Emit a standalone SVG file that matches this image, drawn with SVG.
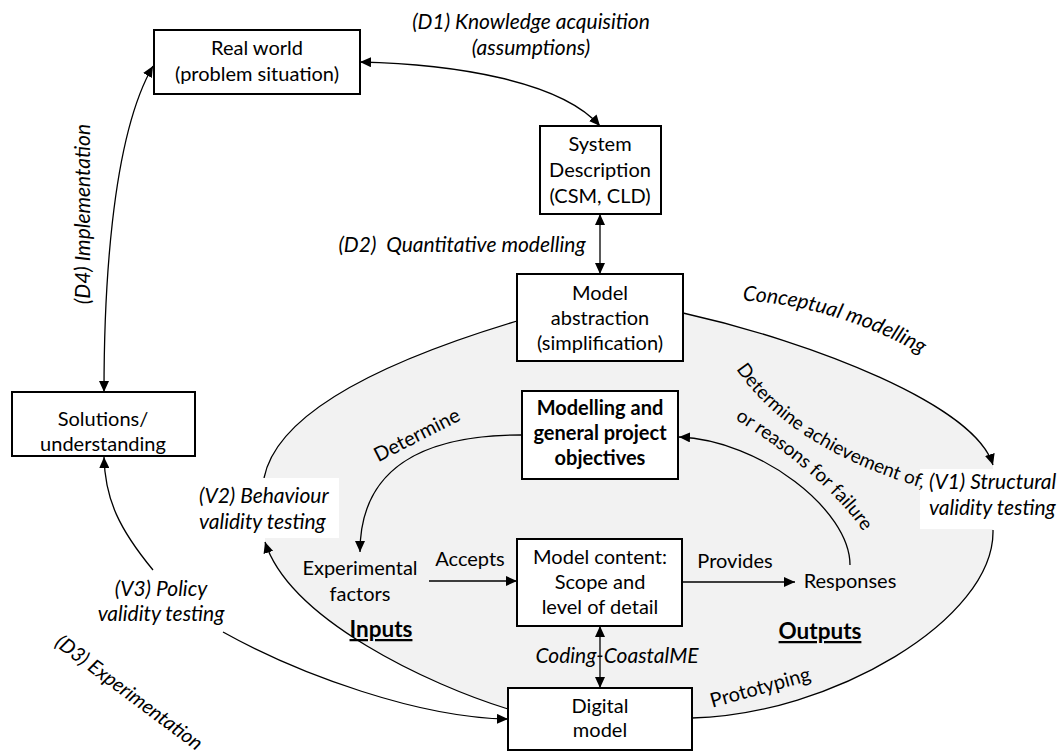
<svg xmlns="http://www.w3.org/2000/svg" width="1061" height="755" viewBox="0 0 1061 755">
<style>
.t{font-family:Lato,"Liberation Sans",sans-serif;font-size:20px;fill:#000}
.i{font-style:italic;font-size:21px}
.b{font-weight:bold}
.c{text-anchor:middle}
.s19{font-size:19px}
.s20{font-size:20px}
.big{font-size:22.5px}
.box{fill:#fff;stroke:#000;stroke-width:2}
.ln{fill:none;stroke:#000;stroke-width:1.3}
.bg{fill:#fff}
</style>
<defs>
<marker id="ah" viewBox="0 0 11 10" refX="11" refY="5" markerWidth="11" markerHeight="10" markerUnits="userSpaceOnUse" orient="auto-start-reverse">
<path d="M0,0 L11,5 L0,10 z" fill="#000"/>
</marker>
<path id="pConc" d="M727,300 Q835,302 935,362"/>
<path id="pDet2" d="M736,369 Q786,443 907,483 L937,493"/>
<path id="pReas" d="M735,419 Q823,474 863,531 L875,549"/>
</defs>

<g id="region">
<path d="M517,321 C397,357 278,408 264,478 L265,542 C290,620 430,685 508,709 L508,720 L692,718 C830,715 995,620 993,530 L993,465 C975,405 813,342 683,313 L683,321 Z" fill="#f2f2f2"/>
</g>

<g id="connectors">
<path class="ln" d="M517,321 C397,357 278,408 264,478"/>
<path class="ln" d="M683,313 C813,342 975,405 993,465" marker-end="url(#ah)"/>
<path class="ln" d="M993,530 C995,620 830,715 692,718"/>
<path class="ln" d="M508,709 C430,685 290,620 265,542" marker-end="url(#ah)"/>
<path class="ln" d="M521,435 C420,435 360,470 360,552" marker-end="url(#ah)"/>
<path class="ln" d="M850,565 C850,510 760,440 679,437" marker-end="url(#ah)"/>
<path class="ln" d="M223,632 C300,675 420,718 508,719" marker-end="url(#ah)"/>
<path class="ln" d="M153,570 C120,530 105,500 104,457" marker-end="url(#ah)"/>
<path class="ln" d="M104,392 C104,300 110,140 153,66" marker-start="url(#ah)" marker-end="url(#ah)"/>
<path class="ln" d="M360,62 C450,64 560,80 600,126" marker-start="url(#ah)" marker-end="url(#ah)"/>
<path class="ln" d="M600,214 L600,274" marker-start="url(#ah)" marker-end="url(#ah)"/>
<path class="ln" d="M600,626 L600,688" marker-start="url(#ah)" marker-end="url(#ah)"/>
<path class="ln" d="M429,581 L517,581" marker-end="url(#ah)"/>
<path class="ln" d="M682,582 L795,582" marker-end="url(#ah)"/>
</g>

<g id="real-world">
<rect class="box" x="154" y="30" width="206" height="64"/>
<text class="t c" x="257" y="55">Real world</text>
<text class="t c" x="257" y="81">(problem situation)</text>
</g>

<g id="system-description">
<rect class="box" x="540" y="126" width="121" height="88"/>
<text class="t c" x="600" y="151">System</text>
<text class="t c" x="600" y="177">Description</text>
<text class="t c" x="600" y="203">(CSM, CLD)</text>
</g>

<g id="model-abstraction">
<rect class="box" x="517" y="274" width="166" height="87"/>
<text class="t c" x="600" y="300">Model</text>
<text class="t c" x="600" y="325">abstraction</text>
<text class="t c" x="600" y="350">(simplification)</text>
</g>

<g id="objectives">
<rect class="box" x="522" y="391" width="156" height="88"/>
<text class="t c b" x="600" y="415">Modelling and</text>
<text class="t c b" x="600" y="440">general project</text>
<text class="t c b" x="600" y="465">objectives</text>
</g>

<g id="model-content">
<rect class="box" x="517" y="539" width="165" height="87"/>
<text class="t c" x="600" y="564">Model content:</text>
<text class="t c" x="600" y="589">Scope and</text>
<text class="t c" x="600" y="614">level of detail</text>
</g>

<g id="digital-model">
<rect class="box" x="508" y="688" width="184" height="62"/>
<text class="t c" x="600" y="713">Digital</text>
<text class="t c" x="600" y="737">model</text>
</g>

<g id="solutions">
<rect class="box" x="12" y="392" width="183" height="64"/>
<text class="t c" x="103" y="426">Solutions/</text>
<text class="t c" x="103" y="451">understanding</text>
</g>

<g id="experimental-factors">
<text class="t c" x="360" y="575">Experimental</text>
<text class="t c" x="360" y="601">factors</text>
</g>

<g id="responses">
<text class="t c" x="850" y="588">Responses</text>
</g>

<g id="v1-label">
<rect class="bg" x="920" y="469" width="141" height="60"/>
<text class="t i" x="929" y="489">(V1) Structural</text>
<text class="t i" x="929" y="515">validity testing</text>
</g>

<g id="v2-label">
<rect class="bg" x="196" y="478" width="143" height="60"/>
<text class="t i" x="199" y="503">(V2) Behaviour</text>
<text class="t i" x="199" y="529">validity testing</text>
</g>

<g id="v3-label">
<text class="t i c" x="161" y="596">(V3) Policy</text>
<text class="t i c" x="161" y="621">validity testing</text>
</g>

<g id="labels">
<text class="t i c" x="531" y="29">(D1) Knowledge acquisition</text>
<text class="t i c" x="531" y="55">(assumptions)</text>
<text class="t i c" x="462" y="252" xml:space="preserve">(D2)  Quantitative modelling</text>
<text class="t i c" transform="translate(90,214) rotate(-90)">(D4) Implementation</text>
<text class="t i c s20" transform="translate(125,698) rotate(36.7)">(D3) Experimentation</text>
<text class="t c" transform="translate(420,441) rotate(-27)">Determine</text>
<text class="t c" transform="translate(762,694) rotate(-15.5)">Prototyping</text>
<text class="t i"><textPath href="#pConc" startOffset="50%" text-anchor="middle">Conceptual modelling</textPath></text>
<text class="t s19"><textPath href="#pDet2" startOffset="0">Determine achievement of,</textPath></text>
<text class="t s19"><textPath href="#pReas" startOffset="0">or reasons for failure</textPath></text>
<text class="t c" x="470" y="566">Accepts</text>
<text class="t c" x="735" y="568">Provides</text>
<text class="t c b big" x="381" y="637" text-decoration="underline">Inputs</text>
<text class="t c b big" x="820" y="639" text-decoration="underline">Outputs</text>
<text class="t i c" x="617" y="663">Coding-CoastalME</text>
</g>
</svg>
